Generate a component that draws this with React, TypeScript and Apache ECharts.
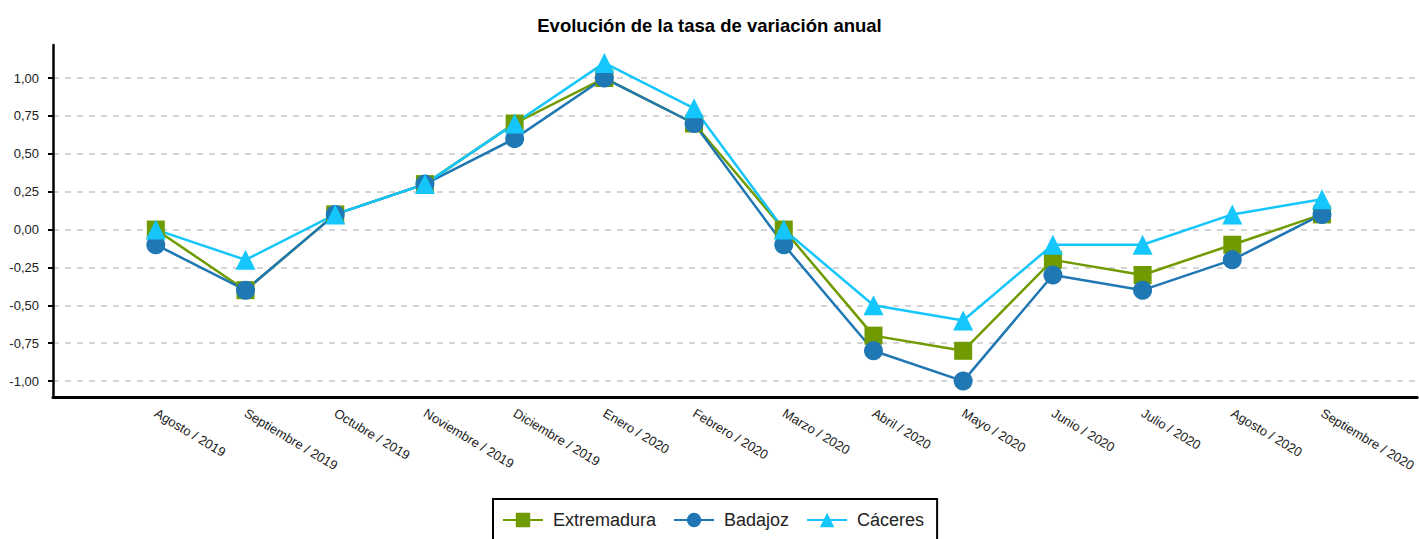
import React, { useEffect, useRef } from "react";
import * as echarts from "echarts";

const categories = [
  "Agosto / 2019", "Septiembre / 2019", "Octubre / 2019", "Noviembre / 2019",
  "Diciembre / 2019", "Enero / 2020", "Febrero / 2020", "Marzo / 2020",
  "Abril / 2020", "Mayo / 2020", "Junio / 2020", "Julio / 2020",
  "Agosto / 2020", "Septiembre / 2020",
];
const extremadura = [0, -0.4, 0.1, 0.3, 0.7, 1.0, 0.7, 0.0, -0.7, -0.8, -0.2, -0.3, -0.1, 0.1];
const badajoz = [-0.1, -0.4, 0.1, 0.3, 0.6, 1.0, 0.7, -0.1, -0.8, -1.0, -0.3, -0.4, -0.2, 0.1];
const caceres = [0, -0.2, 0.1, 0.3, 0.7, 1.1, 0.8, 0.0, -0.5, -0.6, -0.1, -0.1, 0.1, 0.2];
const yTicks = [-1, -0.75, -0.5, -0.25, 0, 0.25, 0.5, 0.75, 1];

const FONT = "Liberation Sans, Arial, sans-serif";

export default function App() {
  const ref = useRef<HTMLDivElement>(null);
  useEffect(() => {
    const chart = echarts.init(ref.current!, null, { renderer: "svg" });
    const mk = (name: string, vals: number[], color: string, symbol: string, size: number) => ({
      name,
      type: "line",
      data: vals.map((v, i) => [i, v]),
      symbol,
      symbolSize: size,
      lineStyle: { color, width: 2.5 },
      itemStyle: { color },
      emphasis: { disabled: true },
    });
    chart.setOption({
      animation: false,
      title: {
        text: "Evolución de la tasa de variación anual",
        left: "center",
        top: 11,
        textStyle: { fontFamily: FONT, fontSize: 18.5, fontWeight: "bold", color: "#000" },
      },
      legend: {
        top: 499,
        left: 493,
        orient: "horizontal",
        borderColor: "#000",
        borderWidth: 2,
        padding: [12, 13, 12, 9],
        itemWidth: 40,
        itemHeight: 18,
        itemGap: 17,
        textStyle: { fontFamily: FONT, fontSize: 18, color: "#222", padding: [0, 0, 0, 5] },
        data: ["Extremadura", "Badajoz", "Cáceres"],
      },
      grid: { left: 53, right: 0, top: 45, bottom: 142, containLabel: false },
      xAxis: {
        type: "value",
        min: -1.146,
        max: 14.06,
        axisLine: { show: true, onZero: false, lineStyle: { color: "#000", width: 3 } },
        axisTick: { show: false },
        splitLine: { show: false },
        axisLabel: {
          customValues: categories.map((_, i) => i),
          formatter: (v: number) => categories[Math.round(v)] ?? "",
          rotate: -31,
          margin: 15,
          fontFamily: FONT,
          fontSize: 13,
          color: "#222",
        },
      },
      yAxis: {
        type: "value",
        min: -1.105,
        max: 1.218,
        axisLine: { show: true, onZero: false, lineStyle: { color: "#000", width: 2.5 } },
        axisTick: { show: true, customValues: yTicks, length: 5, lineStyle: { color: "#000", width: 2 } },
        axisLabel: {
          customValues: yTicks,
          formatter: (v: number) => v.toFixed(2).replace(".", ","),
          fontFamily: FONT,
          fontSize: 13,
          color: "#222",
          margin: 14,
        },
        splitLine: { show: true, lineStyle: { color: "#c8c8c8", type: [6, 6], width: 1.5 } },
      },
      series: [
        mk("Extremadura", extremadura, "#6f9a00", "rect", 18),
        mk("Badajoz", badajoz, "#1f77b4", "circle", 19),
        mk("Cáceres", caceres, "#14c6fc", "triangle", 20),
      ],
    });
    return () => chart.dispose();
  }, []);
  return <div ref={ref} style={{ width: 1419, height: 539, position: "absolute", left: 0, top: 0 }} />;
}
